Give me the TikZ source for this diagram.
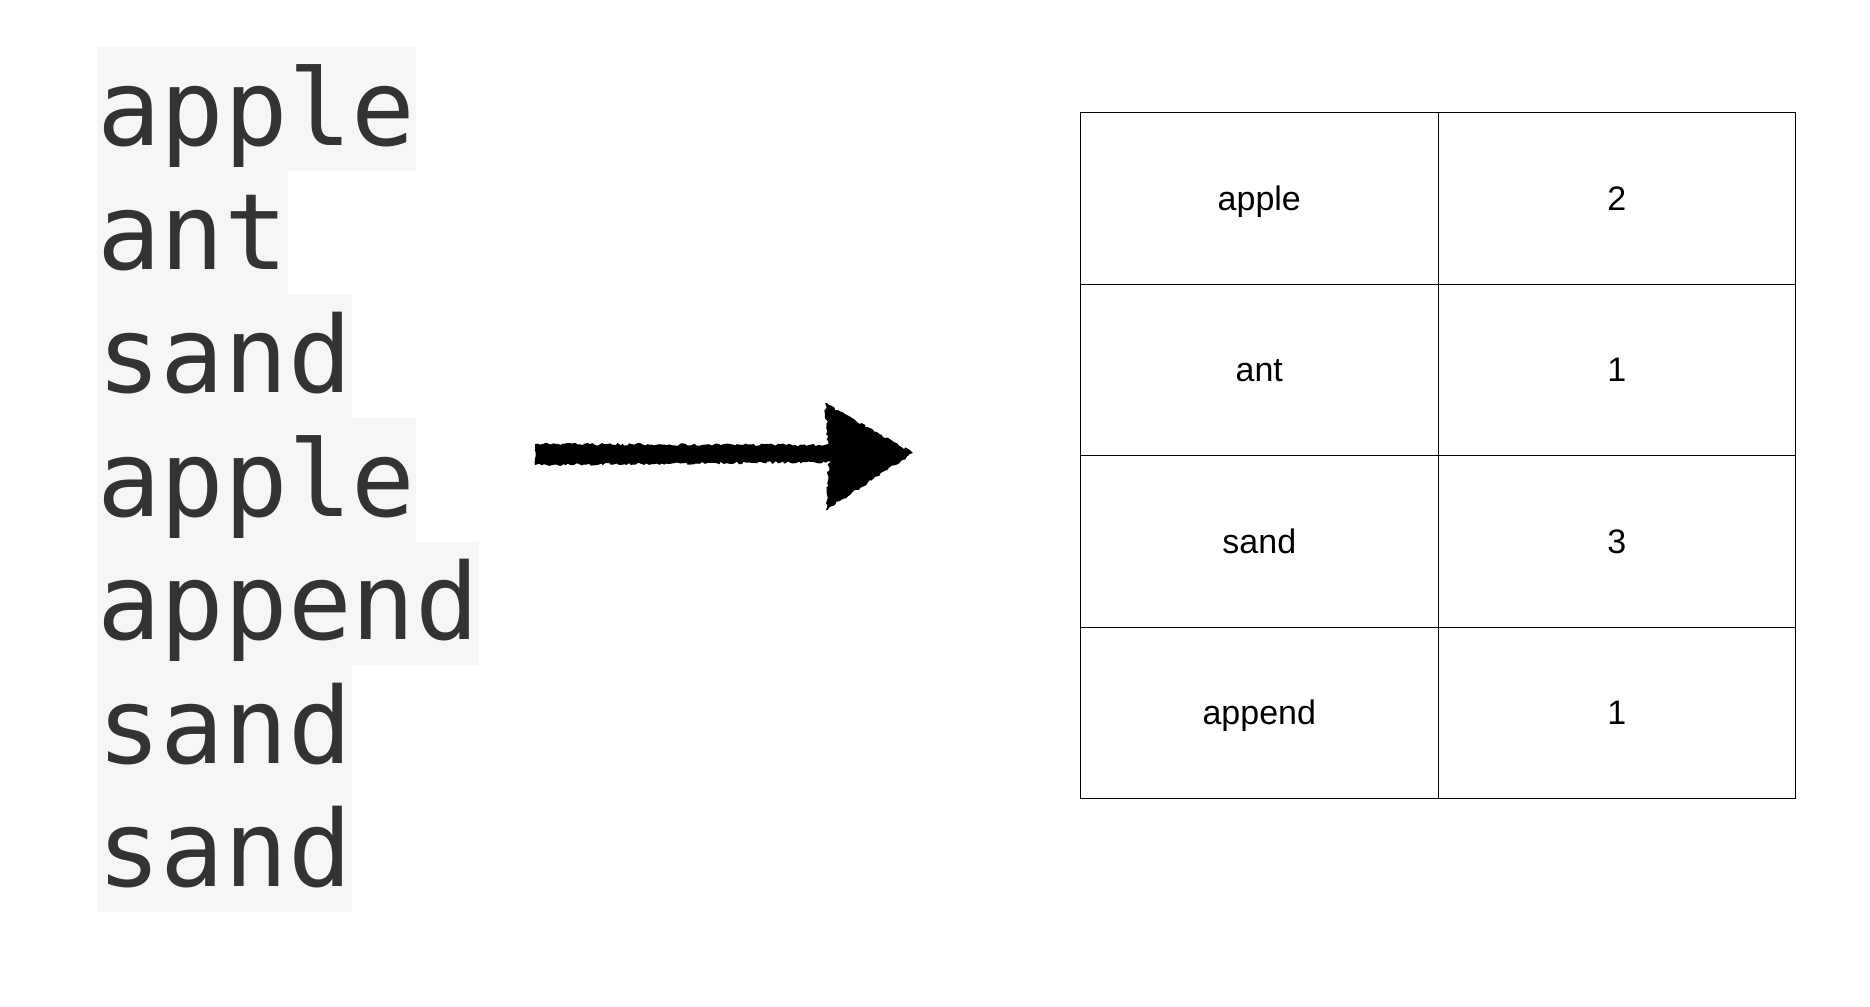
\documentclass[tikz,border=0pt]{standalone}
\usepackage{fontspec}
\usetikzlibrary{calc,decorations.pathmorphing}
\newfontfamily\codefam{DejaVu Sans Mono}
\newfontfamily\cellfam{Liberation Sans}
\definecolor{codebg}{HTML}{F6F6F8}
\definecolor{codefg}{HTML}{333333}
\begin{document}
\begin{tikzpicture}[x=1pt,y=-1pt,
  codeline/.style={anchor=north west, inner sep=0pt, fill=codebg, text=codefg,
    font=\codefam\fontsize{105.8pt}{123.6pt}\selectfont, text height=98.2pt, text depth=25.4pt},
  cellbox/.style={draw=black, line width=1.1pt, minimum width=357.5pt, minimum height=171.5pt,
    inner sep=0pt, anchor=north west},
  celltext/.style={anchor=base, inner sep=0pt, font=\cellfam\fontsize{34pt}{40pt}\selectfont},
  chalk/.style={fill=black, decorate, decoration={random steps, segment length=2.5pt, amplitude=1.3pt}}
]
\pgfmathsetseed{7}
\useasboundingbox (0,0) rectangle (1870,1006);

% word list
\node[codeline] (w1) at (97,47.0)  {apple};
\node[codeline] (w2) at (97,170.6) {ant};
\node[codeline] (w3) at (97,294.1) {sand};
\node[codeline] (w4) at (97,417.7) {apple};
\node[codeline] (w5) at (97,541.3) {append};
\node[codeline] (w6) at (97,664.9) {sand};
\node[codeline] (w7) at (97,788.4) {sand};

% arrow
\coordinate (arrS) at (535,454);
\coordinate (arrE) at (913,453);
\fill[chalk] ($(arrS)+(0,-10)$) -- ($(arrE)+(-82,-8)$) -- ($(arrE)+(-82,9)$) -- ($(arrS)+(0,11)$) -- cycle;
\fill[chalk] ($(arrE)+(-88,-50)$) -- (arrE) -- ($(arrE)+(-87,57)$) -- ($(arrE)+(-84,3)$) -- cycle;

% table
\node[cellbox] (c11) at (1080,112)   {};
\node[cellbox] (c12) at (1437.5,112) {};
\node[cellbox] (c21) at (1080,283.5)   {};
\node[cellbox] (c22) at (1437.5,283.5) {};
\node[cellbox] (c31) at (1080,455)   {};
\node[cellbox] (c32) at (1437.5,455) {};
\node[cellbox] (c41) at (1080,626.5)   {};
\node[cellbox] (c42) at (1437.5,626.5) {};

\node[celltext] (t11) at ([yshift=-12pt]c11.center) {apple};
\node[celltext] (t12) at ([yshift=-12pt]c12.center) {2};
\node[celltext] (t21) at ([yshift=-12pt]c21.center) {ant};
\node[celltext] (t22) at ([yshift=-12pt]c22.center) {1};
\node[celltext] (t31) at ([yshift=-12pt]c31.center) {sand};
\node[celltext] (t32) at ([yshift=-12pt]c32.center) {3};
\node[celltext] (t41) at ([yshift=-12pt]c41.center) {append};
\node[celltext] (t42) at ([yshift=-12pt]c42.center) {1};
\end{tikzpicture}
\end{document}
